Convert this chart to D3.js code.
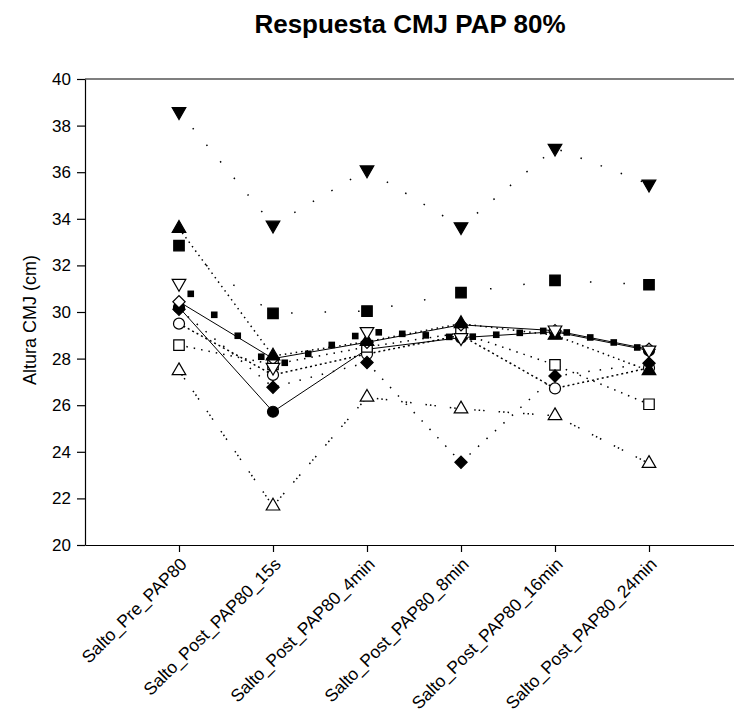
<!DOCTYPE html>
<html>
<head>
<meta charset="utf-8">
<script src="https://cdn.jsdelivr.net/npm/d3@7"></script>
<style>
  body { margin: 0; background: #fff; }
  svg { font-family: "Liberation Sans", Arial, sans-serif; }
</style>
</head>
<body>
<svg class="figure" width="734" height="718"></svg>
<script>
var categories = ["Salto_Pre_PAP80", "Salto_Post_PAP80_15s", "Salto_Post_PAP80_4min",
  "Salto_Post_PAP80_8min", "Salto_Post_PAP80_16min", "Salto_Post_PAP80_24min"];
var yTicks = [20, 22, 24, 26, 28, 30, 32, 34, 36, 38, 40];

// one array per subject (SigmaPlot symbol order)
var circleFilled   = [30.2, 25.72, 28.4, 28.9, 29.15, 28.35];
var circleOpen     = [29.5, 27.3, 28.2, 29.0, 26.72, 27.6];
var triDownFilled  = [38.6, 33.73, 36.1, 33.66, 37.03, 35.49];
var triUpOpen      = [27.48, 21.67, 26.34, 25.84, 25.55, 23.5];
var squareFilled   = [32.85, 29.94, 30.04, 30.83, 31.36, 31.17];
var squareOpen     = [28.58, 27.75, 28.5, 29.1, 27.73, 26.04];
var diamondFilled  = [30.12, 26.77, 27.83, 23.55, 27.25, 27.8];
var diamondOpen    = [30.44, 28.0, 28.7, 29.45, 29.2, 28.4];
var triUpFilled    = [33.59, 28.11, 28.73, 29.5, 29.0, 27.48];
var triDownOpen    = [31.23, 27.63, 29.16, 28.9, 29.23, 28.37];

var series = [
  {values: circleFilled,  symbol: d3.symbolCircle,   fill: "#000", rot: 0,   dash: null,           width: 1},
  {values: circleOpen,    symbol: d3.symbolCircle,   fill: "#fff", rot: 0,   dash: "2 3",          width: 1.5},
  {values: triDownFilled, symbol: d3.symbolTriangle, fill: "#000", rot: 180, dash: "1.5 20",       width: 1.5},
  {values: triUpOpen,     symbol: d3.symbolTriangle, fill: "#fff", rot: 0,   dash: "1.5 3 1.5 3 1.5 14", width: 1.5},
  {values: squareFilled,  symbol: d3.symbolSquare,   fill: "#000", rot: 0,   dash: "1.5 32",       width: 1.5},
  {values: squareOpen,    symbol: d3.symbolSquare,   fill: "#fff", rot: 0,   dash: "1.5 6",        width: 1.5},
  {values: diamondFilled, symbol: d3.symbolSquare,   fill: "#000", rot: 45,  dash: "1.5 10",       width: 1.5},
  {values: diamondOpen,   symbol: d3.symbolSquare,   fill: "#fff", rot: 45,  dash: null,           width: 1},
  {values: triUpFilled,   symbol: d3.symbolTriangle, fill: "#000", rot: 0,   dash: "1.5 4",        width: 1.5},
  {values: triDownOpen,   symbol: d3.symbolTriangle, fill: "#fff", rot: 180, dash: "blocks",       width: 1}
];

var svg = d3.select("svg.figure");
var plotLeft = 85, plotTop = 79, plotBottom = 545, plotRight = 743;

var x = d3.scaleLinear().domain([0, categories.length + 1]).range([plotLeft, plotRight]);
var y = d3.scaleLinear().domain([20, 40]).range([plotBottom, plotTop]);

// title
svg.append("text")
  .attr("x", 410).attr("y", 33)
  .attr("text-anchor", "middle")
  .style("font-size", "26px").style("font-weight", "bold")
  .text("Respuesta CMJ PAP 80%");

// frame top (right edge falls outside the picture)
svg.append("line").attr("x1", plotLeft).attr("x2", plotRight).attr("y1", plotTop).attr("y2", plotTop)
  .attr("stroke", "#000").attr("stroke-width", 1.2);

var yAxis = svg.append("g")
  .attr("transform", "translate(" + plotLeft + ",0)")
  .call(d3.axisLeft(y).tickValues(yTicks).tickSize(8).tickSizeOuter(0).tickPadding(6).tickFormat(d3.format("d")));
yAxis.select(".domain").attr("stroke-width", 1.2);
yAxis.selectAll(".tick line").attr("stroke-width", 1.2);
yAxis.selectAll("text").style("font-size", "17px").attr("fill", "#000");

var xAxis = svg.append("g")
  .attr("transform", "translate(0," + plotBottom + ")")
  .call(d3.axisBottom(x).tickValues(d3.range(1, categories.length + 1)).tickSize(7).tickSizeOuter(0)
    .tickFormat(function(d) { return categories[d - 1]; }));
xAxis.select(".domain").attr("stroke-width", 1.2);
xAxis.selectAll(".tick line").attr("stroke-width", 1.2);
xAxis.selectAll("text")
  .style("font-size", "17.5px").attr("fill", "#000")
  .attr("text-anchor", "end")
  .attr("y", 0).attr("dy", "0.35em")
  .attr("transform", "translate(4,16) rotate(-45)");

svg.append("text")
  .attr("transform", "translate(36," + 320 + ") rotate(-90)")
  .attr("text-anchor", "middle")
  .style("font-size", "18px")
  .text("Altura CMJ (cm)");

var line = d3.line()
  .x(function(d, i) { return x(i + 1); })
  .y(function(d) { return y(d); });

series.forEach(function(s) {
  if (s.dash === "blocks") {
    // heavy "square dot" line style: little squares every quarter category along each segment
    var dots = [];
    s.values.forEach(function(v, i) {
      if (i === 0) return;
      var x0 = x(i), y0 = y(s.values[i - 1]), x1 = x(i + 1), y1 = y(v);
      var step = (x1 - x0) / 4;
      for (var k = 0; k < 4; k++) {
        var t = (step * (k + 0.5)) / (x1 - x0);
        dots.push([x0 + (x1 - x0) * t, y0 + (y1 - y0) * t]);
      }
    });
    svg.append("g").selectAll("rect")
      .data(dots)
      .enter()
      .append("rect")
      .attr("x", function(d) { return d[0] - 3.3; })
      .attr("y", function(d) { return d[1] - 3.3; })
      .attr("width", 6.6).attr("height", 6.6)
      .attr("fill", "#000");
    return;
  }
  svg.append("path")
    .datum(s.values)
    .attr("d", line)
    .attr("fill", "none")
    .attr("stroke", "#000")
    .attr("stroke-width", s.width)
    .attr("stroke-dasharray", s.dash);
});

series.forEach(function(s) {
  var size = s.symbol === d3.symbolTriangle ? 80 : (s.symbol === d3.symbolCircle ? 95 : (s.rot ? 75 : 110));
  svg.append("g").selectAll("path")
    .data(s.values)
    .enter()
    .append("path")
    .attr("d", d3.symbol().type(s.symbol).size(size))
    .attr("transform", function(d, i) {
      return "translate(" + x(i + 1) + "," + y(d) + ") rotate(" + s.rot + ")";
    })
    .attr("fill", s.fill)
    .attr("stroke", "#000")
    .attr("stroke-width", 1.2);
});
</script>
</body>
</html>
